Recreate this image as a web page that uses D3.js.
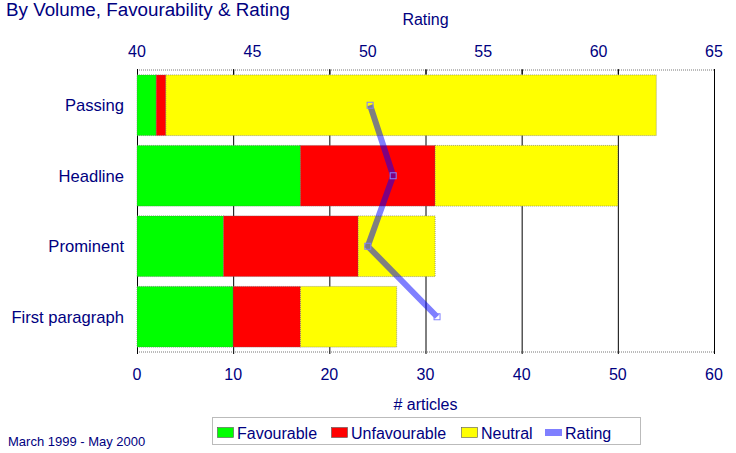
<!DOCTYPE html>
<html>
<head>
<meta charset="utf-8">
<script src="https://cdn.jsdelivr.net/npm/d3@7"></script>
<style>
  body { margin: 0; background: #fff; }
  text { font-family: "Liberation Sans", Arial, sans-serif; fill: #000080; }
</style>
</head>
<body>
<div id="chart"></div>
<script>
// data
var categories = ["Passing", "Headline", "Prominent", "First paragraph"];
var favourable = [2, 17, 9, 10];
var unfavourable = [1, 14, 14, 7];
var neutral = [51, 19, 8, 10];
var rating = [50.1, 51.1, 50.0, 53.0];

var articleTicks = [0, 10, 20, 30, 40, 50, 60];
var ratingTicks = [40, 45, 50, 55, 60, 65];

var width = 736, height = 453;
var plot = {left: 137, right: 714, top: 70, bottom: 352};

var svg = d3.select("#chart").append("svg")
    .attr("width", width)
    .attr("height", height);

var x = d3.scaleLinear().domain([0, 60]).range([plot.left, plot.right]);
var xr = d3.scaleLinear().domain([40, 65]).range([plot.left, plot.right]);
var y = d3.scaleBand().domain(categories).range([plot.top, plot.bottom]).paddingInner(0.14).paddingOuter(0.07);

// title
svg.append("text")
    .attr("x", 6).attr("y", 16)
    .style("font-size", "18.8px")
    .text("By Volume, Favourability & Rating");

// frame (dotted top/bottom)
svg.append("line")
    .attr("x1", plot.left).attr("x2", plot.right)
    .attr("y1", plot.top).attr("y2", plot.top)
    .attr("stroke", "#777").attr("stroke-dasharray", "1,1");
svg.append("line")
    .attr("x1", plot.left).attr("x2", plot.right)
    .attr("y1", plot.bottom).attr("y2", plot.bottom)
    .attr("stroke", "#777").attr("stroke-dasharray", "1,1");

// gridlines
svg.selectAll(".grid")
    .data(articleTicks)
    .enter().append("line")
    .attr("class", "grid")
    .attr("x1", d => x(d) + 0.5).attr("x2", d => x(d) + 0.5)
    .attr("y1", plot.top).attr("y2", plot.bottom + 2)
    .attr("stroke", "#000").attr("stroke-width", 1);

// stacked bars
var series = [
  {name: "Favourable", values: favourable, color: "#00ff00"},
  {name: "Unfavourable", values: unfavourable, color: "#ff0000"},
  {name: "Neutral", values: neutral, color: "#ffff00"}
];
var rows = categories.map(function(c, i) {
  return {cat: c, Favourable: favourable[i], Unfavourable: unfavourable[i], Neutral: neutral[i]};
});
var stack = d3.stack().keys(series.map(s => s.name))(rows);

svg.selectAll(".layer")
    .data(stack)
    .enter().append("g")
    .attr("fill", (d, i) => series[i].color)
    .selectAll("rect")
    .data(d => d)
    .enter().append("rect")
    .attr("x", d => x(d[0]))
    .attr("width", d => x(d[1]) - x(d[0]))
    .attr("y", d => y(d.data.cat))
    .attr("height", y.bandwidth())
    .attr("stroke", "#666")
    .attr("stroke-width", 0.6)
    .attr("stroke-dasharray", "1,1");

// category labels
svg.selectAll(".cat")
    .data(categories)
    .enter().append("text")
    .attr("x", 124)
    .attr("y", d => y(d) + y.bandwidth() / 2 + 6)
    .attr("text-anchor", "end")
    .style("font-size", "16.6px")
    .text(d => d);

// bottom axis
svg.selectAll(".btick")
    .data(articleTicks)
    .enter().append("text")
    .attr("x", d => x(d))
    .attr("y", 380)
    .attr("text-anchor", "middle")
    .style("font-size", "16px")
    .text(d => d);
svg.append("text")
    .attr("x", x(30)).attr("y", 410)
    .attr("text-anchor", "middle")
    .style("font-size", "16px")
    .text("# articles");

// top axis: tick marks on the article grid, labels on the rating scale
svg.selectAll(".ttick")
    .data(articleTicks)
    .enter().append("line")
    .attr("x1", d => x(d) + 0.5).attr("x2", d => x(d) + 0.5)
    .attr("y1", plot.top - 1).attr("y2", plot.top + 4)
    .attr("stroke", "#000");
svg.selectAll(".tlab")
    .data(ratingTicks)
    .enter().append("text")
    .attr("x", d => xr(d))
    .attr("y", 57)
    .attr("text-anchor", "middle")
    .style("font-size", "16px")
    .text(d => d);
svg.append("text")
    .attr("x", x(30)).attr("y", 25)
    .attr("text-anchor", "middle")
    .style("font-size", "16px")
    .text("Rating");

// rating line
var line = d3.line()
    .x((d, i) => xr(d))
    .y((d, i) => y(categories[i]) + y.bandwidth() / 2);
svg.append("path")
    .datum(rating)
    .attr("d", line)
    .attr("fill", "none")
    .attr("stroke", "#0000ff")
    .attr("stroke-opacity", 0.5)
    .attr("stroke-width", 6)
    .attr("stroke-linejoin", "miter");
svg.selectAll(".mk")
    .data(rating)
    .enter().append("rect")
    .attr("x", d => xr(d) - 3)
    .attr("y", (d, i) => y(categories[i]) + y.bandwidth() / 2 - 3)
    .attr("width", 6).attr("height", 6)
    .attr("fill", "none")
    .attr("stroke", "#8080ff")
    .attr("stroke-width", 1);

// legend
var lg = svg.append("g");
lg.append("rect")
    .attr("x", 212.5).attr("y", 417.5)
    .attr("width", 428).attr("height", 27)
    .attr("fill", "#fff")
    .attr("stroke", "#777").attr("stroke-dasharray", "1,1");
var legendItems = [
  {name: "Favourable", color: "#00ff00", x: 217},
  {name: "Unfavourable", color: "#ff0000", x: 331},
  {name: "Neutral", color: "#ffff00", x: 461},
  {name: "Rating", color: null, x: 545}
];
legendItems.forEach(function(it) {
  if (it.color) {
    lg.append("rect")
      .attr("x", it.x + 0.5).attr("y", 427.5)
      .attr("width", 16).attr("height", 10)
      .attr("fill", it.color)
      .attr("stroke", "#555").attr("stroke-width", 0.6);
  } else {
    lg.append("rect")
      .attr("x", it.x).attr("y", 429)
      .attr("width", 17).attr("height", 7)
      .attr("fill", "#0000ff").attr("fill-opacity", 0.5);
  }
  lg.append("text")
    .attr("x", it.x + 20).attr("y", 438.5)
    .style("font-size", "16px")
    .text(it.name);
});

svg.append("text")
    .attr("x", 8).attr("y", 446)
    .style("font-size", "13px")
    .text("March 1999 - May 2000");
</script>
</body>
</html>
